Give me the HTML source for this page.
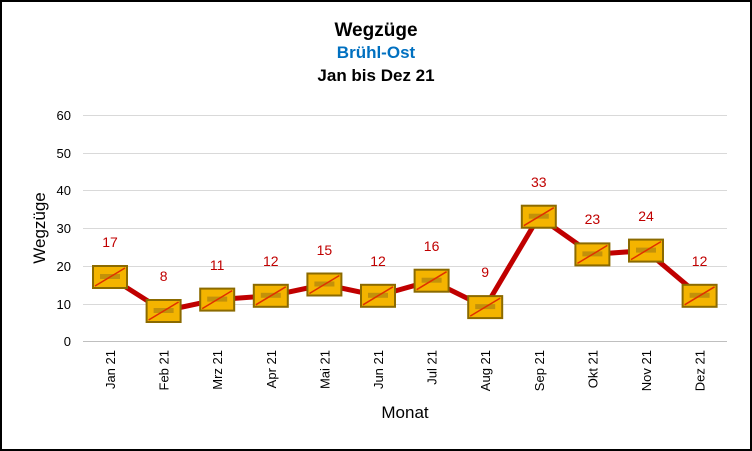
<!DOCTYPE html><html><head><style>body{margin:0;background:#fff}svg{display:block}text{font-family:"Liberation Sans",sans-serif}</style></head><body>
<svg width="752" height="451" viewBox="0 0 752 451">
<defs><g id="m"><rect x="-17" y="-11" width="34" height="22" fill="#F4B400" stroke="#8B6A00" stroke-width="2"/><rect x="-10" y="-3" width="20" height="5" fill="#A07A10" opacity="0.6"/><line x1="-15" y1="9" x2="15" y2="-9" stroke="#E03000" stroke-width="1.5"/></g></defs>
<rect x="1" y="1" width="750" height="449" fill="#fff" stroke="#000" stroke-width="2"/>
<text x="376" y="36" text-anchor="middle" font-size="19" font-weight="bold">Wegzüge</text>
<text x="376" y="58" text-anchor="middle" font-size="17" font-weight="bold" fill="#0070C0">Brühl-Ost</text>
<text x="376" y="81" text-anchor="middle" font-size="17" font-weight="bold">Jan bis Dez 21</text>
<g stroke="#d9d9d9" stroke-width="1">
<line x1="83" x2="727" y1="115.5" y2="115.5"/><line x1="83" x2="727" y1="153.5" y2="153.5"/><line x1="83" x2="727" y1="190.5" y2="190.5"/><line x1="83" x2="727" y1="228.5" y2="228.5"/><line x1="83" x2="727" y1="266.5" y2="266.5"/><line x1="83" x2="727" y1="304.5" y2="304.5"/></g>
<line x1="83" x2="727" y1="341.5" y2="341.5" stroke="#bfbfbf"/>
<g font-size="13" text-anchor="end"><text x="71" y="120">60</text><text x="71" y="158">50</text><text x="71" y="195">40</text><text x="71" y="233">30</text><text x="71" y="271">20</text><text x="71" y="309">10</text><text x="71" y="346">0</text></g>
<text transform="translate(45,228) rotate(-90)" text-anchor="middle" font-size="17">Wegzüge</text>
<text x="405" y="418" text-anchor="middle" font-size="17">Monat</text>
<g font-size="13" text-anchor="end">
<text transform="translate(115,350) rotate(-90)">Jan 21</text>
<text transform="translate(168.6,350) rotate(-90)">Feb 21</text>
<text transform="translate(222.2,350) rotate(-90)">Mrz 21</text>
<text transform="translate(275.8,350) rotate(-90)">Apr 21</text>
<text transform="translate(329.4,350) rotate(-90)">Mai 21</text>
<text transform="translate(383,350) rotate(-90)">Jun 21</text>
<text transform="translate(436.6,350) rotate(-90)">Jul 21</text>
<text transform="translate(490.2,350) rotate(-90)">Aug 21</text>
<text transform="translate(543.8,350) rotate(-90)">Sep 21</text>
<text transform="translate(597.4,350) rotate(-90)">Okt 21</text>
<text transform="translate(651,350) rotate(-90)">Nov 21</text>
<text transform="translate(704.6,350) rotate(-90)">Dez 21</text>
</g>
<polyline fill="none" stroke="#C00000" stroke-width="5" stroke-linejoin="round" points="110,277 163.6,311 217.2,299.6 270.8,295.8 324.4,284.5 378,295.8 431.6,280.7 485.2,307.1 538.8,216.7 592.4,254.4 646,250.6 699.6,295.8"/>
<use href="#m" x="110" y="277"/><use href="#m" x="163.6" y="311"/><use href="#m" x="217.2" y="299.6"/><use href="#m" x="270.8" y="295.8"/><use href="#m" x="324.4" y="284.5"/><use href="#m" x="378" y="295.8"/><use href="#m" x="431.6" y="280.7"/><use href="#m" x="485.2" y="307.1"/><use href="#m" x="538.8" y="216.7"/><use href="#m" x="592.4" y="254.4"/><use href="#m" x="646" y="250.6"/><use href="#m" x="699.6" y="295.8"/>
<g font-size="14" fill="#C00000" text-anchor="middle">
<text x="110" y="247">17</text><text x="163.6" y="281">8</text><text x="217.2" y="270">11</text><text x="270.8" y="266">12</text><text x="324.4" y="255">15</text><text x="378" y="266">12</text><text x="431.6" y="251">16</text><text x="485.2" y="277">9</text><text x="538.8" y="187">33</text><text x="592.4" y="224">23</text><text x="646" y="221">24</text><text x="699.6" y="266">12</text>
</g>
</svg></body></html>
